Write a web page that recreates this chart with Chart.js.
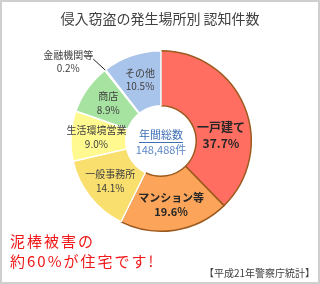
<!DOCTYPE html>
<html>
<head>
<meta charset="utf-8">
<script src="https://cdn.jsdelivr.net/npm/chart.js@4/dist/chart.umd.min.js"></script>
<style>
  body { margin: 0; background: #fff; font-family: 'Noto Sans CJK JP', sans-serif; }
  #wrap { position: relative; width: 320px; height: 284px; overflow: hidden; }
  #chart { position: absolute; left: 0; top: 0; }
  .frame { position: absolute; inset: 0; border: 2px solid #cfcfcf; pointer-events: none; }
  .title { position: absolute; left: 0; width: 320px; top: 8px; text-align: center;
           font-size: 14px; color: #404040; line-height: 20px; }
  .note { position: absolute; left: 10px; top: 231px; color: #f01818;
          font-size: 15px; letter-spacing: 2px; line-height: 20px; }
  .source { position: absolute; right: 5px; top: 266px; font-size: 10px; color: #404040; line-height: 14px; }
</style>
</head>
<body>
<div id="wrap">
  <canvas id="chart" width="320" height="284"></canvas>
  <div class="title">侵入窃盗の発生場所別 認知件数</div>
  <div class="note">泥棒被害の<br>約60%が住宅です!</div>
  <div class="source">【平成21年警察庁統計】</div>
  <div class="frame"></div>
</div>
<script>
// Data
const categories = ['一戸建て', 'マンション等', '一般事務所', '生活環境営業', '商店', '金融機関等', 'その他'];
const shares = [37.7, 19.6, 14.1, 9.0, 8.9, 0.2, 10.5];
const totalLabel = '年間総数';
const totalCount = '148,488件';

const sliceColors = ['#ff6e61', '#fba45a', '#f9df6e', '#fff98f', '#a6e2a0', '#c9e6c4', '#a9c4eb'];
const sliceBorders = ['#9c5a1e', '#9c5a1e', '#ffffff', '#ffffff', '#ffffff', '#ffffff', '#ffffff'];
const FONT = "'Noto Sans CJK JP', sans-serif";

// slice labels drawn on the ring
const sliceLabels = {
  id: 'sliceLabels',
  afterDatasetsDraw(chart) {
    const ctx = chart.ctx;
    const meta = chart.getDatasetMeta(0);
    ctx.save();
    ctx.textAlign = 'center';
    ctx.textBaseline = 'middle';
    meta.data.forEach((arc, i) => {
      const p = arc.getProps(['x', 'y', 'startAngle', 'endAngle', 'innerRadius', 'outerRadius'], true);
      const mid = (p.startAngle + p.endAngle) / 2;
      const pct = shares[i].toFixed(1) + '%';
      if (i === 5) {
        // tiny slice: label outside with a leader line
        const ex = p.x + Math.cos(mid) * p.outerRadius;
        const ey = p.y + Math.sin(mid) * p.outerRadius;
        const sx = ex - 12, sy = ey - 11;
        ctx.strokeStyle = '#202020';
        ctx.lineWidth = 1;
        ctx.beginPath();
        ctx.moveTo(sx, sy);
        ctx.lineTo(ex, ey);
        ctx.stroke();
        ctx.fillStyle = '#404040';
        ctx.font = '10px ' + FONT;
        ctx.fillText(categories[i], sx - 25, sy - 4);
        ctx.fillText(pct, sx - 25, sy + 9);
        return;
      }
      const r = (p.innerRadius + p.outerRadius) / 2 + 2;
      let x = p.x + Math.cos(mid) * r;
      let y = p.y + Math.sin(mid) * r;
      const bold = i < 2;
      if (i === 0) y += 19;
      const gap = i === 0 ? 16 : (i === 1 ? 14 : 13.5);
      ctx.fillStyle = bold ? '#262626' : '#404040';
      ctx.font = (bold ? 'bold ' + (i === 0 ? 12 : 11) : 10) + 'px ' + FONT;
      ctx.fillText(categories[i], x, y - gap / 2);
      ctx.fillText(pct, x, y + gap / 2);
    });

    // centre text
    const c = meta.data[0];
    ctx.fillStyle = '#3f6fb4';
    ctx.font = '11px ' + FONT;
    ctx.fillText(totalLabel, c.x, c.y - 6);
    const w = ctx.measureText(totalLabel).width;
    ctx.strokeStyle = '#3f6fb4';
    ctx.lineWidth = 1;
    ctx.beginPath();
    ctx.moveTo(c.x - w / 2, c.y + 1.5);
    ctx.lineTo(c.x + w / 2, c.y + 1.5);
    ctx.stroke();
    ctx.fillStyle = '#5a86c5';
    ctx.fillText(totalCount, c.x, c.y + 9);
    ctx.restore();
  }
};

new Chart(document.getElementById('chart'), {
  type: 'doughnut',
  data: {
    labels: categories,
    datasets: [{
      data: shares,
      backgroundColor: sliceColors,
      borderColor: sliceBorders,
      borderWidth: 1.5
    }]
  },
  options: {
    responsive: false,
    animation: false,
    cutout: '39%',
    layout: { padding: { left: 70, right: 68, top: 50, bottom: 52 } },
    plugins: {
      legend: { display: false },
      tooltip: { enabled: false }
    }
  },
  plugins: [sliceLabels]
});
</script>
</body>
</html>
